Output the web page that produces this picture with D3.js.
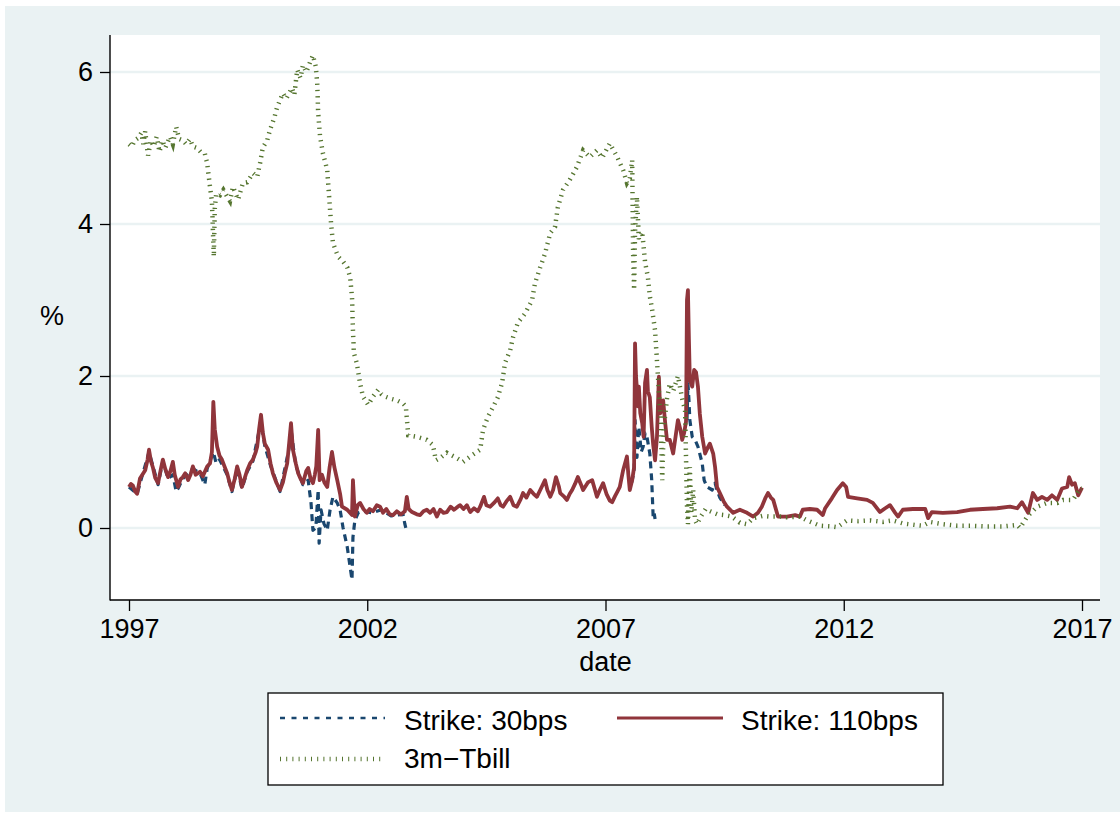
<!DOCTYPE html>
<html>
<head>
<meta charset="utf-8">
<script src="https://cdn.jsdelivr.net/npm/d3@7"></script>
<style>
  html, body { margin: 0; padding: 0; background: #ffffff; }
  svg { display: block; }
  text { font-family: "Liberation Sans", Arial, Helvetica, sans-serif; fill: #000; }
</style>
</head>
<body>
<svg id="chart" width="1120" height="818"></svg>
<script>
// ---------------- data ----------------
const xTicks = [1997, 2002, 2007, 2012, 2017];
const yTicks = [0, 2, 4, 6];
const seriesNames = ["Strike: 30bps", "Strike: 110bps", "3m\u2212Tbill"];
const xTitle = "date";
const yTitle = "%";

// Strike: 30bps (gaps where the series is not shown)
const s30Years = [1997.00,1997.17,1997.42,1997.61,1997.71,1997.82,1997.92,1997.99,1998.03,1998.13,1998.34,1998.49,1998.59,1998.64,1998.74,1998.77,1998.83,1998.90,1999.06,1999.16,1999.27,1999.37,1999.48,1999.60,1999.77,1999.85,1999.97,2000.17,2000.36,2000.40,2000.50,2000.65,2000.76,2000.82,2000.86,2000.92,2000.97,2000.99,2001.03,2001.09,2001.16,2001.22,2001.28,2001.37,2001.43,2001.49,2001.58,2001.64,2001.68,2001.70,2001.74,2001.81,2001.92,2002.10,2002.30,2002.50,2002.75,2002.79,2002.81,
  2002.82,
  2007.55,2007.60,2007.62,2007.66,2007.70,2007.75,2007.79,2007.83,2007.87,2007.93,2007.97,2008.00,2008.02,2008.04,
  2008.05,
  2008.71,2008.73,2008.75,2008.77,2008.82,2008.88,2008.94,2009.03,2009.07,2009.13,2009.24,2009.30,2009.34,2009.40,2009.50];
const s30Values = [0.54,0.45,1.00,0.57,0.88,0.65,0.70,0.48,0.52,0.65,0.78,0.72,0.57,0.78,0.95,1.00,0.85,0.90,0.70,0.48,0.78,0.52,0.74,0.88,1.40,1.08,0.82,0.48,1.05,1.30,0.82,0.57,0.63,0.33,-0.03,0.00,0.50,-0.20,0.24,0.06,-0.03,0.24,0.41,0.33,0.24,0.01,-0.25,-0.51,-0.68,-0.12,0.10,0.20,0.22,0.20,0.24,0.16,0.18,0.05,0.00,
  null,
  0.60,0.75,1.42,0.93,1.33,1.00,1.07,1.25,1.20,0.98,0.63,0.15,0.20,0.12,
  null,
  1.42,1.90,1.70,1.42,1.20,1.16,1.07,0.85,0.63,0.54,0.50,0.59,0.50,0.40,0.30];

// Strike: 110bps
const s110Years = [1997.00,1997.04,1997.08,1997.13,1997.17,1997.23,1997.28,1997.34,1997.39,1997.42,1997.46,1997.50,1997.55,1997.61,1997.66,1997.71,1997.76,1997.82,1997.87,1997.92,1997.96,1998.03,1998.08,1998.13,1998.18,1998.24,1998.29,1998.34,1998.40,1998.49,1998.55,1998.64,1998.70,1998.74,1998.77,1998.80,1998.85,1998.90,1998.95,1999.01,1999.06,1999.11,1999.16,1999.22,1999.27,1999.32,1999.37,1999.43,1999.48,1999.54,1999.60,1999.66,1999.69,1999.73,1999.77,1999.81,1999.85,1999.92,1999.97,2000.02,2000.09,2000.17,2000.23,2000.27,2000.32,2000.36,2000.40,2000.44,2000.50,2000.55,2000.60,2000.65,2000.72,2000.76,2000.81,2000.86,2000.90,2000.93,2000.97,2001.00,2001.05,2001.10,2001.16,2001.21,2001.26,2001.31,2001.37,2001.43,2001.47,2001.58,2001.68,2001.70,2001.74,2001.80,2001.85,2001.92,2001.99,2002.05,2002.12,2002.20,2002.27,2002.33,2002.40,2002.47,2002.54,2002.62,2002.70,2002.75,2002.79,2002.83,2002.87,2002.94,2003.04,2003.11,2003.18,2003.25,2003.32,2003.39,2003.46,2003.53,2003.60,2003.67,2003.75,2003.82,2003.90,2003.95,2004.02,2004.09,2004.16,2004.24,2004.32,2004.37,2004.45,2004.50,2004.58,2004.66,2004.74,2004.80,2004.85,2004.92,2005.00,2005.07,2005.14,2005.22,2005.27,2005.34,2005.42,2005.49,2005.56,2005.63,2005.73,2005.78,2005.84,2005.90,2005.96,2006.02,2006.05,2006.12,2006.19,2006.25,2006.30,2006.36,2006.42,2006.48,2006.53,2006.58,2006.63,2006.72,2006.78,2006.82,2006.88,2006.95,2007.02,2007.09,2007.14,2007.20,2007.25,2007.30,2007.37,2007.45,2007.48,2007.51,2007.56,2007.60,2007.62,2007.64,2007.66,2007.68,2007.70,2007.73,2007.77,2007.80,2007.83,2007.87,2007.89,2007.93,2007.97,2008.00,2008.04,2008.08,2008.12,2008.15,2008.21,2008.25,2008.29,2008.35,2008.42,2008.47,2008.52,2008.57,2008.61,2008.65,2008.69,2008.71,2008.73,2008.75,2008.77,2008.82,2008.86,2008.90,2008.94,2008.98,2009.03,2009.09,2009.14,2009.19,2009.26,2009.30,2009.34,2009.40,2009.48,2009.55,2009.68,2009.82,2009.97,2010.10,2010.20,2010.28,2010.36,2010.41,2010.47,2010.52,2010.62,2010.81,2010.98,2011.08,2011.14,2011.29,2011.44,2011.56,2011.61,2011.75,2011.86,2011.98,2012.05,2012.09,2012.28,2012.49,2012.61,2012.76,2012.87,2012.97,2013.08,2013.14,2013.24,2013.45,2013.71,2013.77,2013.85,2014.08,2014.38,2014.65,2014.92,2015.22,2015.49,2015.64,2015.74,2015.87,2015.97,2016.06,2016.16,2016.27,2016.37,2016.48,2016.58,2016.69,2016.73,2016.79,2016.85,2016.92,2017.00];
const s110Values = [0.54,0.58,0.56,0.48,0.45,0.65,0.70,0.76,0.90,1.03,0.88,0.80,0.66,0.59,0.75,0.90,0.78,0.67,0.75,0.87,0.70,0.54,0.64,0.67,0.72,0.63,0.70,0.81,0.70,0.74,0.68,0.81,0.85,1.00,1.66,1.30,1.07,0.95,0.90,0.80,0.72,0.60,0.50,0.65,0.81,0.70,0.54,0.66,0.76,0.85,0.90,1.00,1.07,1.30,1.49,1.25,1.11,1.03,0.85,0.72,0.60,0.50,0.60,0.72,0.85,1.11,1.38,1.03,0.85,0.72,0.65,0.59,0.75,0.79,0.65,0.59,0.70,0.81,1.29,0.63,0.70,0.60,0.54,0.80,1.00,0.80,0.63,0.45,0.28,0.24,0.17,0.63,0.15,0.30,0.33,0.25,0.20,0.25,0.22,0.30,0.28,0.20,0.25,0.18,0.17,0.22,0.18,0.20,0.22,0.41,0.25,0.21,0.18,0.17,0.22,0.24,0.20,0.25,0.15,0.24,0.20,0.21,0.28,0.24,0.28,0.30,0.25,0.30,0.21,0.26,0.22,0.28,0.41,0.30,0.28,0.33,0.39,0.30,0.28,0.35,0.41,0.30,0.28,0.38,0.46,0.40,0.50,0.45,0.41,0.50,0.63,0.50,0.41,0.50,0.67,0.55,0.46,0.42,0.37,0.45,0.50,0.58,0.67,0.58,0.50,0.55,0.60,0.63,0.50,0.41,0.50,0.59,0.45,0.36,0.34,0.42,0.48,0.54,0.76,0.94,0.70,0.50,0.63,0.80,2.43,2.00,1.82,1.60,1.86,1.51,1.38,1.20,1.91,2.08,1.80,1.72,1.33,1.10,0.89,1.20,1.99,1.51,1.68,1.40,1.16,1.16,0.98,1.20,1.42,1.30,1.16,1.25,1.40,3.00,3.13,2.50,1.95,1.86,2.08,2.05,1.86,1.50,1.20,0.98,1.05,1.11,0.98,0.80,0.54,0.46,0.35,0.28,0.20,0.24,0.20,0.15,0.20,0.28,0.40,0.46,0.40,0.37,0.15,0.15,0.17,0.15,0.24,0.25,0.24,0.17,0.26,0.39,0.50,0.59,0.54,0.41,0.39,0.37,0.33,0.21,0.26,0.30,0.20,0.15,0.24,0.25,0.25,0.13,0.21,0.20,0.21,0.24,0.25,0.26,0.28,0.26,0.34,0.20,0.46,0.37,0.41,0.37,0.43,0.37,0.52,0.54,0.67,0.57,0.59,0.43,0.53];

// 3m-Tbill
const tbillYears = [1997.00,1997.06,1997.12,1997.19,1997.26,1997.30,1997.34,1997.40,1997.46,1997.52,1997.58,1997.64,1997.70,1997.76,1997.86,1997.92,1997.99,1998.05,1998.13,1998.20,1998.28,1998.34,1998.43,1998.50,1998.59,1998.64,1998.70,1998.74,1998.78,1998.80,1998.83,1998.91,1998.98,1999.06,1999.12,1999.18,1999.29,1999.39,1999.48,1999.60,1999.69,1999.75,1999.81,1999.90,1999.96,2000.05,2000.11,2000.23,2000.30,2000.42,2000.47,2000.53,2000.60,2000.65,2000.72,2000.80,2000.86,2000.92,2000.95,2000.97,2001.01,2001.07,2001.16,2001.20,2001.24,2001.28,2001.39,2001.50,2001.58,2001.64,2001.68,2001.70,2001.72,2001.78,2001.85,2001.91,2002.02,2002.12,2002.23,2002.30,2002.37,2002.50,2002.62,2002.75,2002.81,2002.83,2002.86,2003.04,2003.25,2003.38,2003.44,2003.53,2003.67,2003.88,2004.01,2004.16,2004.37,2004.43,2004.53,2004.64,2004.74,2004.83,2004.89,2005.00,2005.06,2005.16,2005.31,2005.46,2005.52,2005.63,2005.73,2005.84,2005.94,2006.00,2006.11,2006.25,2006.40,2006.53,2006.67,2006.82,2006.93,2007.09,2007.24,2007.37,2007.45,2007.51,2007.56,2007.58,2007.60,2007.62,2007.66,2007.70,2007.77,2007.83,2007.89,2007.93,2007.98,2008.04,2008.08,2008.12,2008.16,2008.19,2008.22,2008.29,2008.35,2008.42,2008.52,2008.61,2008.67,2008.71,2008.73,2008.77,2008.80,2008.84,2008.88,2008.92,2009.00,2009.10,2009.20,2009.35,2009.50,2009.65,2009.82,2009.97,2010.10,2010.30,2010.45,2010.66,2010.81,2011.08,2011.23,2011.50,2011.75,2011.86,2012.07,2012.30,2012.55,2012.82,2013.03,2013.24,2013.50,2013.66,2013.81,2014.08,2014.38,2014.65,2015.00,2015.34,2015.64,2015.70,2015.85,2016.06,2016.27,2016.48,2016.60,2016.81,2016.96,2017.00];
const tbillValues = [5.05,5.02,5.10,5.13,5.20,5.05,5.22,4.90,5.10,5.02,5.15,4.95,5.10,5.00,5.15,5.05,5.28,5.12,5.10,5.05,5.12,5.02,5.00,4.95,4.93,4.80,4.49,4.30,3.57,4.20,4.40,4.38,4.45,4.36,4.30,4.49,4.32,4.54,4.55,4.67,4.62,4.80,5.01,5.10,5.24,5.40,5.54,5.72,5.65,5.79,5.70,6.03,5.92,6.09,6.00,6.13,6.22,6.07,5.85,5.46,5.15,4.93,4.71,4.36,4.01,3.75,3.57,3.50,3.43,3.30,3.04,2.60,2.30,2.17,1.90,1.73,1.62,1.73,1.82,1.76,1.73,1.70,1.68,1.64,1.60,1.45,1.22,1.20,1.16,1.09,0.89,0.92,0.99,0.92,0.87,0.94,1.03,1.29,1.46,1.59,1.72,1.91,2.17,2.34,2.51,2.70,2.82,3.00,3.22,3.43,3.61,3.88,3.96,4.22,4.45,4.58,4.75,4.97,4.88,4.97,4.87,5.06,4.89,4.71,4.54,4.60,4.84,3.60,3.13,3.90,4.36,3.80,3.90,3.50,3.30,3.05,2.87,2.60,2.20,1.80,1.40,0.63,1.30,1.70,1.90,1.80,2.00,1.70,1.55,0.30,0.05,0.80,0.20,0.50,0.10,0.05,0.15,0.25,0.22,0.18,0.17,0.15,0.07,0.05,0.13,0.16,0.15,0.15,0.14,0.15,0.10,0.03,0.02,0.01,0.10,0.09,0.10,0.08,0.10,0.06,0.04,0.03,0.08,0.05,0.03,0.03,0.02,0.02,0.04,0.00,0.15,0.28,0.33,0.33,0.37,0.37,0.52,0.52];

// ---------------- drawing ----------------
const colors = { s30: "#1a476f", s110: "#90353b", tbill: "#55752f" };
const svg = d3.select("#chart");

// figure background
svg.append("rect").attr("x", 0).attr("y", 0).attr("width", 1120).attr("height", 818).attr("fill", "#ffffff");
svg.append("rect").attr("x", 5).attr("y", 6).attr("width", 1115).attr("height", 806).attr("fill", "#eaf2f3");

const plot = { left: 110, right: 1100, top: 35, bottom: 600 };
const pxPerYear = (1082 - 129) / 20;
const x = d3.scaleLinear()
  .domain([1997 - (129 - plot.left) / pxPerYear, 1997 + (plot.right - 129) / pxPerYear])
  .range([plot.left, plot.right]);
const pxPerUnit = 76;
const y = d3.scaleLinear()
  .domain([-(plot.bottom - 528) / pxPerUnit, (528 - plot.top) / pxPerUnit])
  .range([plot.bottom, plot.top]);

// plot region
svg.append("rect").attr("x", plot.left).attr("y", plot.top)
  .attr("width", plot.right - plot.left).attr("height", plot.bottom - plot.top).attr("fill", "#ffffff");

// gridlines
svg.append("g").selectAll("line").data(yTicks).join("line")
  .attr("x1", plot.left).attr("x2", plot.right)
  .attr("y1", d => y(d)).attr("y2", d => y(d))
  .attr("stroke", "#eaf2f3").attr("stroke-width", 2.5);

// series
const toPoints = (xs, vs) => xs.map((t, i) => ({ t: t, v: vs[i] }));
const line = d3.line().defined(d => d.v !== null).x(d => x(d.t)).y(d => y(d.v));

const gSeries = svg.append("g");
gSeries.append("path").datum(toPoints(s30Years, s30Values))
  .attr("d", line).attr("fill", "none").attr("stroke", colors.s30)
  .attr("stroke-width", 3.2).attr("stroke-dasharray", "7,5").attr("stroke-linejoin", "round");
gSeries.append("path").datum(toPoints(s110Years, s110Values))
  .attr("d", line).attr("fill", "none").attr("stroke", colors.s110)
  .attr("stroke-width", 3.8).attr("stroke-linejoin", "round");
gSeries.append("path").datum(toPoints(tbillYears, tbillValues))
  .attr("d", line).attr("fill", "none").attr("stroke", colors.tbill)
  .attr("stroke-width", 4.5).attr("stroke-dasharray", "1.3,5");

// axes
const yAxis = d3.axisLeft(y).tickValues(yTicks).tickSize(10).tickPadding(7).tickFormat(d3.format("d"));
const gy = svg.append("g").attr("transform", `translate(${plot.left},0)`).call(yAxis);
const xAxis = d3.axisBottom(x).tickValues(xTicks).tickSize(11).tickPadding(7.5).tickFormat(d3.format("d"));
const gx = svg.append("g").attr("transform", `translate(0,${plot.bottom})`).call(xAxis);
[gx, gy].forEach(g => {
  g.select(".domain").remove();
  g.selectAll(".tick line").attr("stroke", "#000").attr("stroke-width", 1.3);
  g.selectAll(".tick text").attr("font-size", 27).attr("fill", "#000")
    .attr("font-family", "'Liberation Sans', Arial, sans-serif");
});
svg.append("line").attr("x1", plot.left).attr("x2", plot.left).attr("y1", plot.top).attr("y2", plot.bottom + 0.6)
  .attr("stroke", "#000").attr("stroke-width", 1.4);
svg.append("line").attr("x1", plot.left).attr("x2", plot.right).attr("y1", plot.bottom).attr("y2", plot.bottom)
  .attr("stroke", "#000").attr("stroke-width", 1.4);

// axis titles
svg.append("text").attr("x", 52).attr("y", 325).attr("text-anchor", "middle").attr("font-size", 27).text(yTitle);
svg.append("text").attr("x", (x(2007))).attr("y", 671).attr("text-anchor", "middle").attr("font-size", 27).text(xTitle);

// legend
const lg = svg.append("g");
lg.append("rect").attr("x", 268).attr("y", 693).attr("width", 675).attr("height", 92)
  .attr("fill", "#ffffff").attr("stroke", "#000").attr("stroke-width", 1.3);
const legendItems = [
  { name: seriesNames[0], color: colors.s30, dash: "5,6.5", sw: 2.5, x1: 280, x2: 385, ly: 718, tx: 404, ty: 730 },
  { name: seriesNames[1], color: colors.s110, dash: null, sw: 3.2, x1: 617, x2: 723, ly: 718, tx: 741, ty: 730 },
  { name: seriesNames[2], color: colors.tbill, dash: "1,5.2", sw: 4.5, x1: 280, x2: 385, ly: 759, tx: 404, ty: 768 }
];
legendItems.forEach(it => {
  const l = lg.append("line").attr("x1", it.x1).attr("x2", it.x2).attr("y1", it.ly).attr("y2", it.ly)
    .attr("stroke", it.color).attr("stroke-width", it.sw);
  if (it.dash) l.attr("stroke-dasharray", it.dash);
  lg.append("text").attr("x", it.tx).attr("y", it.ty).attr("font-size", 28).text(it.name);
});
</script>
</body>
</html>
